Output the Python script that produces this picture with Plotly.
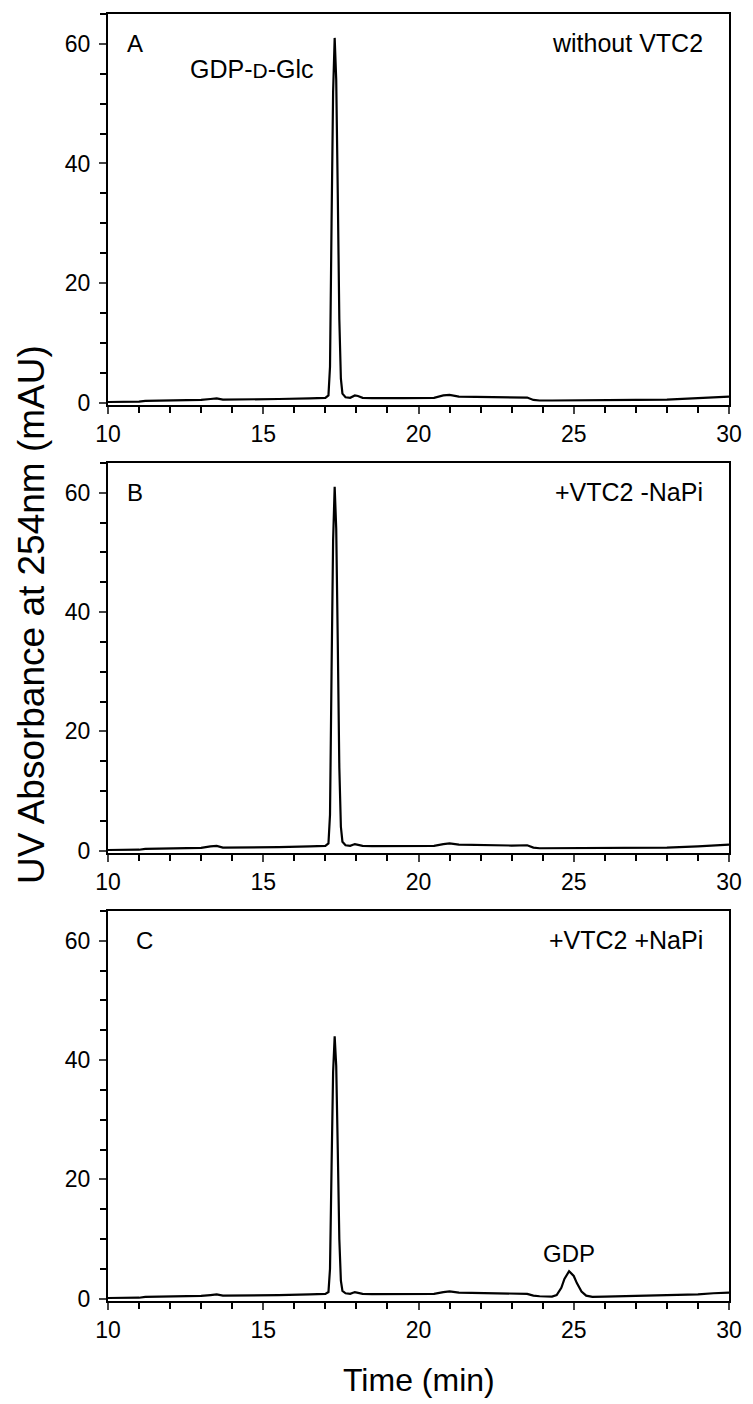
import plotly.graph_objects as go

# Shared retention-time grid (min)
time_min = [10.0, 10.5, 11.0, 11.2, 12.0, 13.0, 13.3, 13.5, 13.7, 14.5, 15.5, 16.5,
            17.0, 17.1, 17.15, 17.2, 17.25, 17.3, 17.35, 17.4, 17.45, 17.5, 17.55,
            17.65, 17.8, 17.95, 18.05, 18.2, 18.5, 19.5, 20.5, 20.8, 21.0, 21.3,
            22.0, 23.0, 23.5, 23.7, 23.9, 24.3, 24.45, 24.6, 24.7, 24.85, 25.0,
            25.1, 25.25, 25.4, 25.6, 26.0, 27.0, 28.0, 29.0, 29.5, 30.0]

# Panel A: without VTC2
abs_a = [0.1, 0.1, 0.15, 0.3, 0.35, 0.45, 0.6, 0.7, 0.5, 0.5, 0.6, 0.7,
         0.8, 1.2, 6.0, 30.0, 52.0, 61.0, 54.0, 35.0, 14.0, 4.0, 1.5,
         0.9, 0.8, 1.2, 1.1, 0.8, 0.75, 0.75, 0.8, 1.2, 1.3, 1.0,
         0.95, 0.9, 0.85, 0.45, 0.35, 0.35, 0.35, 0.35, 0.35, 0.35, 0.35,
         0.35, 0.35, 0.35, 0.35, 0.4, 0.45, 0.5, 0.7, 0.9, 1.0]

# Panel B: +VTC2 -NaPi
abs_b = [0.1, 0.1, 0.15, 0.3, 0.35, 0.45, 0.7, 0.8, 0.5, 0.5, 0.6, 0.7,
         0.8, 1.2, 6.0, 30.0, 52.0, 61.0, 54.0, 35.0, 14.0, 4.0, 1.5,
         0.9, 0.8, 1.1, 1.0, 0.8, 0.75, 0.75, 0.8, 1.1, 1.2, 1.0,
         0.9, 0.85, 0.9, 0.5, 0.4, 0.4, 0.4, 0.4, 0.4, 0.4, 0.4,
         0.4, 0.4, 0.4, 0.4, 0.4, 0.45, 0.5, 0.7, 0.9, 1.0]

# Panel C: +VTC2 +NaPi
abs_c = [0.1, 0.1, 0.15, 0.3, 0.35, 0.45, 0.6, 0.7, 0.5, 0.5, 0.6, 0.7,
         0.8, 1.1, 5.0, 22.0, 38.0, 44.0, 39.0, 25.0, 10.0, 3.0, 1.3,
         0.9, 0.8, 1.1, 1.0, 0.8, 0.75, 0.75, 0.8, 1.1, 1.2, 1.0,
         0.9, 0.85, 0.8, 0.5, 0.4, 0.35, 0.6, 1.8, 3.3, 4.6, 3.8,
         2.6, 1.2, 0.5, 0.3, 0.35, 0.45, 0.5, 0.7, 0.9, 1.0]

series = [abs_a, abs_b, abs_c]
panel_letters = ["A", "B", "C"]
condition_labels = ["without VTC2", "+VTC2 -NaPi", "+VTC2 +NaPi"]

# The page body has an 8px margin, so the figure is drawn 8px in from the
# window's top-left corner; work in window pixels and convert.
OFF = 8
W, H = 753 - OFF, 1404 - OFF
FONT = "Liberation Sans, Arial, Helvetica, sans-serif"
x_left, x_right = 108 - OFF, 729 - OFF
panel_px = [(14, 405), (463, 853), (911, 1301)]  # (top, bottom) in window pixels


def py(v):
    return 1 - (v - OFF) / H


fig = go.Figure()
for i, ys in enumerate(series):
    n = "" if i == 0 else str(i + 1)
    fig.add_trace(go.Scatter(x=time_min, y=ys, mode="lines",
                             line=dict(color="black", width=2.2),
                             xaxis="x" + n, yaxis="y" + n, showlegend=False))

layout = dict(width=W, height=H, margin=dict(l=0, r=0, t=0, b=0, autoexpand=False),
              paper_bgcolor="white", plot_bgcolor="white",
              font=dict(family=FONT, color="black"))

for i, (top, bot) in enumerate(panel_px):
    n = "" if i == 0 else str(i + 1)
    layout["xaxis" + n] = dict(domain=[x_left / W, x_right / W], anchor="y" + n,
                               automargin=False,
                               range=[10, 30], tick0=10, dtick=5, ticks="outside",
                               ticklen=7, tickwidth=2, showline=True, linewidth=2.2,
                               linecolor="black", mirror=True, showgrid=False,
                               zeroline=False, tickfont=dict(size=23, family=FONT),
                               minor=dict(dtick=1, ticks="outside", ticklen=6,
                                          tickwidth=2, tickcolor="black"))
    layout["yaxis" + n] = dict(domain=[py(bot), py(top)], anchor="x" + n, automargin=False,
                               range=[-0.4, 65], tick0=0, dtick=20, ticks="outside",
                               ticklen=7, tickwidth=2, showline=True, linewidth=2.2,
                               linecolor="black", mirror=True, showgrid=False,
                               zeroline=False, tickfont=dict(size=23, family=FONT),
                               ticklabelstandoff=4,
                               minor=dict(dtick=5, ticks="outside", ticklen=6,
                                          tickwidth=2, tickcolor="black"))

fig.update_layout(**layout)

ann = []
for i, (top, bot) in enumerate(panel_px):
    n = "" if i == 0 else str(i + 1)
    ann.append(dict(text=panel_letters[i], xref="x" + n + " domain", yref="y" + n + " domain",
                    x=0.028 if i < 2 else 0.042, y=0.925, xanchor="left", yanchor="middle",
                    showarrow=False, font=dict(size=24, family=FONT)))
    ann.append(dict(text=condition_labels[i], xref="x" + n + " domain", yref="y" + n + " domain",
                    x=0.962, y=0.925, xanchor="right", yanchor="middle",
                    showarrow=False, font=dict(size=25, family=FONT)))

ann.append(dict(text="GDP-<span style='font-size:21px'>D</span>-Glc", xref="x", yref="y",
                x=16.7, y=55.8, xanchor="right", yanchor="middle", showarrow=False,
                font=dict(size=25, family=FONT)))
ann.append(dict(text="GDP", xref="x3", yref="y3", x=24.85, y=7.5, xanchor="center",
                yanchor="middle", showarrow=False, font=dict(size=24, family=FONT)))
ann.append(dict(text="Time (min)", xref="paper", yref="paper",
                x=(x_left + x_right) / 2 / W, y=py(1380), xanchor="center",
                yanchor="middle", showarrow=False, font=dict(size=32, family=FONT)))
ann.append(dict(text="UV Absorbance at 254nm (mAU)", xref="paper", yref="paper",
                x=(31 - OFF) / W, y=py(615), xanchor="center", yanchor="middle",
                textangle=-90, showarrow=False, font=dict(size=37, family=FONT)))
fig.update_layout(annotations=ann)

fig.write_html("out.html")
